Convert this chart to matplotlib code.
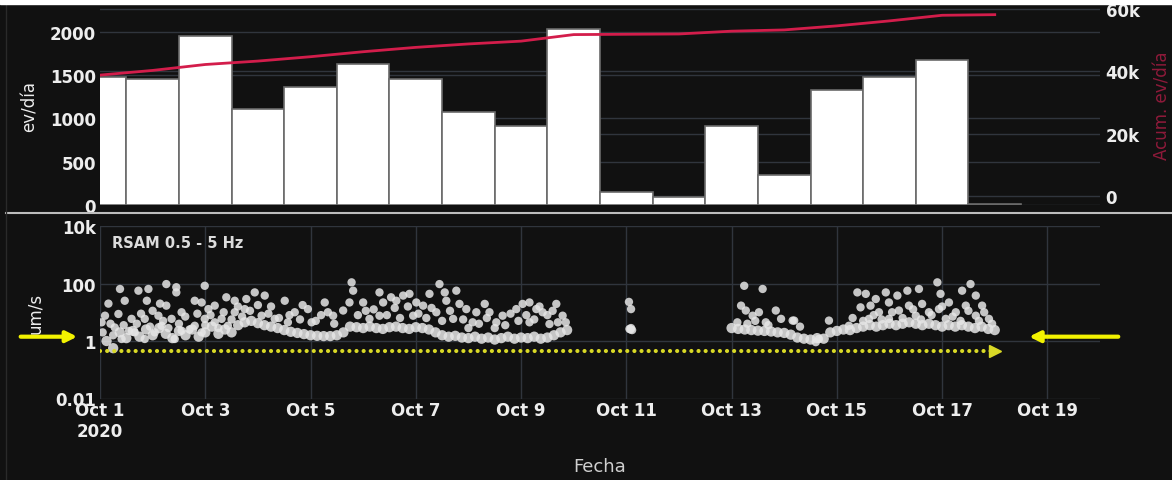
import numpy as np
import matplotlib.pyplot as plt
from matplotlib.lines import Line2D
from matplotlib.patches import Rectangle

# Conteo diario (ev/día) y acumulado, días contados desde el 1 de octubre de 2020
dias = np.arange(18)
eventos = [1475, 1455, 1955, 1105, 1360, 1630, 1455, 1070, 910, 2030,
           145, 90, 910, 350, 1330, 1475, 1680, 15]
acumulado = [38800, 40300, 42200, 43300, 44700, 46300, 47700, 48800, 49700, 51800,
             51900, 52000, 52900, 53300, 54600, 56200, 58000, 58200]

# RSAM 0.5 - 5 Hz: nivel de fondo cada 3 horas (log10 um/s)
t_fondo_1 = np.arange(0.125, 8.876, 0.125)
fondo_1 = [0.0, -0.25, 0.3, 0.1, 0.35, 0.15, 0.4, 0.2,
           0.45, 0.25, 0.1, 0.35, 0.2, 0.4, 0.15, 0.3,
           0.5, 0.25, 0.4, 0.3, 0.55, 0.65, 0.7, 0.62,
           0.55, 0.5, 0.45, 0.38, 0.32, 0.28, 0.24, 0.2,
           0.18, 0.17, 0.17, 0.2, 0.3, 0.5, 0.48, 0.45,
           0.5, 0.45, 0.42, 0.48, 0.5, 0.45, 0.42, 0.48,
           0.45, 0.4, 0.3, 0.2, 0.15, 0.18, 0.12, 0.1,
           0.15, 0.08, 0.12, 0.05, 0.1, 0.15, 0.08, 0.12,
           0.1, 0.15, 0.08, 0.12, 0.2, 0.3, 0.38]
t_fondo_2 = np.arange(12.0, 17.001, 0.125)
fondo_2 = [0.45, 0.42, 0.4, 0.38, 0.36, 0.35, 0.33, 0.3,
           0.28, 0.22, 0.12, 0.08, 0.05, 0.1, 0.08, 0.3,
           0.35, 0.4, 0.38, 0.45, 0.5, 0.55, 0.5, 0.55,
           0.6, 0.55, 0.6, 0.65, 0.6, 0.55, 0.6, 0.55,
           0.5, 0.55, 0.5, 0.55, 0.5, 0.45, 0.5, 0.42, 0.38]

# Picos por encima del fondo (día, log10 um/s)
t_picos = [0.38, 0.73, 0.92, 1.26, 1.45, 1.45, 1.99, 0.16, 0.47, 0.89, 1.14, 1.26,
           0.095, 0.35, 0.6, 0.85, 1.11, 1.36, 1.55, 1.80, 1.93, 2.06, 2.18, 2.40,
           2.56, 2.78, 2.94, 3.13, 3.51, 3.70, 3.95, 4.27, 4.33, 2.56, 2.75, 3.07,
           2.18, 1.80, 1.55, 1.17, 0.66, 0.28, 0.41, 0.85, 1.42, 1.99, 2.31, 3.32,
           3.57, 4.02, 1.93, 1.04, 0.03, 2.43,
           0.05, 0.2, 0.25, 0.45, 0.55, 0.7, 0.78, 0.95, 1.0, 1.2, 1.3, 1.5,
           1.62, 1.7, 1.85, 2.0, 2.1, 2.25, 2.35, 2.5, 2.62, 2.7, 2.85, 3.0,
           3.2, 3.25, 3.4, 3.6, 3.8, 3.85, 4.1, 4.2, 4.45,
           4.78, 4.81, 4.74, 4.62, 5.0, 5.31, 5.38, 5.53, 5.63, 5.76, 5.88, 6.01,
           6.14, 6.26, 6.45, 6.55, 6.58, 6.77, 6.83, 6.96, 7.15, 7.31, 7.40, 7.65,
           7.91, 8.03, 8.16, 8.29, 8.41, 8.67, 8.79, 8.85, 5.31, 5.95, 6.39, 7.08,
           7.53, 8.16, 4.43, 5.12, 6.71, 8.54,
           4.9, 5.05, 5.2, 5.45, 5.6, 5.7, 5.85, 6.05, 6.2, 6.3, 6.5, 6.65,
           6.9, 7.0, 7.2, 7.35, 7.5, 7.7, 7.8, 7.95, 8.1, 8.25, 8.35, 8.5,
           8.6, 8.7,
           10.06, 10.09, 10.11, 10.08, 10.05, 10.09,
           12.24, 12.59, 12.18, 12.27, 12.40, 12.52, 12.84, 12.94, 13.16, 12.11, 12.65,
           12.3, 12.45, 12.7, 13.3,
           13.19, 13.85, 14.39, 14.55, 14.74, 14.93, 15.15, 15.34, 15.56, 15.91, 15.97,
           16.13, 16.38, 16.54, 16.64, 16.76, 14.45, 14.64, 14.80, 14.99, 15.18, 15.37,
           15.62, 15.75, 15.94, 16.26, 16.45, 16.64, 16.89, 14.61, 14.99, 15.50, 16.07,
           14.23, 13.66, 13.60,
           14.3, 14.5, 14.7, 14.85, 15.05, 15.25, 15.45, 15.6, 15.8, 16.0, 16.2, 16.35,
           16.5, 16.7, 16.8, 16.95]
v_picos = [1.81, 1.75, 1.81, 1.98, 1.87, 1.69, 1.92, 1.30, 1.40, 1.40, 1.30, 1.23,
           0.88, 0.94, 0.77, 0.77, 0.88, 0.77, 1.0, 1.40, 1.34, 1.11, 1.23, 1.52,
           1.40, 1.46, 1.69, 1.58, 1.40, 1.0, 1.11, 1.34, 1.0, 1.0, 1.11, 0.88,
           0.65, 0.53, 0.36, 0.53, 0.30, 0.47, 0.07, 0.07, 0.07, 0.77, 0.77, 0.77,
           0.65, 0.65, 0.30, 0.30, 0.65, 0.53,
           0.3, 0.6, 0.2, 0.55, 0.35, 0.6, 0.95, 0.5, 1.05, 0.7, 0.45, 0.6,
           0.85, 0.4, 0.95, 0.55, 0.9, 0.45, 1.0, 0.75, 1.2, 0.85, 1.05, 1.25,
           0.95, 1.2, 0.8, 0.9, 0.75, 1.25, 0.7, 0.9, 0.6,
           2.04, 1.75, 1.34, 1.06, 1.34, 1.69, 1.34, 1.52, 1.40, 1.58, 1.64, 1.34,
           1.23, 1.64, 1.98, 1.69, 1.40, 1.75, 1.29, 1.11, 1.0, 1.29, 1.0, 0.88,
           1.11, 1.29, 1.34, 1.11, 1.0, 1.29, 0.88, 0.65, 0.88, 0.88, 1.0, 0.65,
           0.65, 0.65, 0.88, 0.77, 0.77, 0.59,
           0.9, 1.05, 1.1, 0.9, 1.15, 0.8, 1.2, 0.95, 0.8, 1.15, 0.7, 1.05,
           0.75, 0.45, 0.6, 0.8, 0.45, 0.55, 0.95, 0.7, 0.9, 0.75, 1.2, 0.9,
           1.05, 0.65,
           0.42, 0.45, 0.38, 0.40, 1.36, 1.11,
           1.92, 1.81, 1.23, 1.06, 0.88, 1.0, 1.06, 0.77, 0.71, 0.65, 0.65,
           0.6, 0.7, 0.55, 0.5,
           0.71, 0.71, 1.69, 1.64, 1.46, 1.69, 1.58, 1.75, 1.81, 2.04, 1.64,
           1.34, 1.75, 1.98, 1.58, 1.23, 1.17, 1.23, 1.0, 1.34, 1.06, 1.23,
           1.29, 1.0, 1.11, 1.0, 1.23, 0.88, 0.77, 0.77, 0.77, 0.88, 0.77,
           0.53, 0.07, -0.04,
           0.8, 0.7, 0.9, 0.75, 1.0, 0.8, 1.1, 0.75, 0.9, 1.2, 0.85, 0.7,
           1.05, 0.7, 1.0, 0.6]

nivel_referencia = 10 ** -0.35
nivel_flechas = 10 ** 0.15

ticks_x = list(range(0, 19, 2))
etiquetas_x = ["Oct 1\n2020", "Oct 3", "Oct 5", "Oct 7", "Oct 9", "Oct 11",
               "Oct 13", "Oct 15", "Oct 17", "Oct 19"]

FONDO = "#111111"
TEXTO = "#ededed"
GRID = "#30353d"
ROJO = "#d31d4b"
AMARILLO = "#f2f200"
PUNTOS_AMARILLOS = "#d9d926"

W, H = 1172, 481
fig = plt.figure(figsize=(W / 100, H / 100), dpi=100, facecolor=FONDO)


def px_axes(x0, y0, x1, y1):
    return fig.add_axes([x0 / W, 1 - y1 / H, (x1 - x0) / W, (y1 - y0) / H])


# ---- panel superior: ev/día + acumulado ----
ax = px_axes(100, 6, 1100, 206)
ax.set_facecolor(FONDO)
ax.bar(dias, eventos, width=1.0, color="white", edgecolor="#6a6a6a", linewidth=1.2, zorder=2)
ax.set_xlim(0, 19)
ax.set_ylim(0, 2312)
ax.set_yticks([0, 500, 1000, 1500, 2000])
ax.grid(axis="y", color=GRID, linewidth=1, zorder=0)
ax.set_xticks([])
ax.tick_params(axis="y", length=0, pad=3, labelcolor=TEXTO, labelsize=12)
for lab in ax.get_yticklabels():
    lab.set_fontweight("bold")
ax.set_ylabel("ev/día", color=TEXTO, fontsize=12, labelpad=8)
for s in ax.spines.values():
    s.set_visible(False)

ax2 = ax.twinx()
ax2.plot(dias, acumulado, color=ROJO, linewidth=2, zorder=3)
ax2.set_ylim(-2900, 61300)
ax2.set_yticks([0, 20000, 40000, 60000])
ax2.set_yticklabels(["0", "20k", "40k", "60k"])
ax2.tick_params(axis="y", length=0, pad=4, labelcolor=TEXTO, labelsize=12)
for lab in ax2.get_yticklabels():
    lab.set_fontweight("bold")
ax2.set_ylabel("Acum. ev/día", color="#8e1a3a", fontsize=12, labelpad=10)
for s in ax2.spines.values():
    s.set_visible(False)
# líneas de rejilla del eje derecho, por debajo de las barras
for v in [0, 20000, 40000, 60000]:
    f = (v + 2900) / (61300 + 2900)
    ax.plot([0, 1], [f, f], transform=ax.transAxes, color=GRID, linewidth=1, zorder=1)

# ---- panel inferior: RSAM ----
bx = px_axes(100, 227, 1100, 399.5)
bx.set_facecolor(FONDO)
bx.set_yscale("log")
bx.set_xlim(0, 19)
bx.set_ylim(0.01, 10000)
bx.set_yticks([0.01, 1, 100, 10000])
bx.set_yticklabels(["0.01", "1", "100", "10k"])
bx.minorticks_off()
bx.set_xticks(ticks_x)
bx.set_xticklabels(etiquetas_x)
bx.grid(True, color=GRID, linewidth=1, zorder=0)
bx.tick_params(length=0, labelcolor=TEXTO, labelsize=12)
bx.tick_params(axis="y", pad=3)
bx.tick_params(axis="x", pad=2)
for lab in bx.get_xticklabels() + bx.get_yticklabels():
    lab.set_fontweight("bold")
for s in bx.spines.values():
    s.set_visible(False)
bx.set_ylabel("um/s", color=TEXTO, fontsize=12, labelpad=8)
bx.set_xlabel("Fecha", color="#cfcfcf", fontsize=13, labelpad=12)

estilo = dict(color="#e6e6e6", alpha=0.85, edgecolors="none", zorder=3)
bx.scatter(t_fondo_1, 10 ** np.array(fondo_1), s=55, **estilo)
bx.scatter(t_fondo_2, 10 ** np.array(fondo_2), s=55, **estilo)
bx.scatter(t_picos, 10 ** np.array(v_picos), s=36, **estilo)

bx.text(0.012, 0.905, "RSAM 0.5 - 5 Hz", transform=bx.transAxes, color="#dcdcdc",
        fontsize=10.5, fontweight="bold", va="center")

# nivel de referencia punteado con punta de flecha
bx.plot([0, 16.95], [nivel_referencia, nivel_referencia], color=PUNTOS_AMARILLOS,
        linewidth=3, linestyle=(0, (0.01, 1.7)), dash_capstyle="round", zorder=4)
bx.plot([17.0], [nivel_referencia], marker=">", markersize=9, color=PUNTOS_AMARILLOS,
        linestyle="none", zorder=4)

# flechas laterales
bx.annotate("", xy=(-0.38, nivel_flechas), xytext=(-1.56, nivel_flechas),
            arrowprops=dict(arrowstyle="-|>", color=AMARILLO, lw=3, mutation_scale=16),
            annotation_clip=False)
bx.annotate("", xy=(17.6, nivel_flechas), xytext=(19.4, nivel_flechas),
            arrowprops=dict(arrowstyle="-|>", color=AMARILLO, lw=3, mutation_scale=16),
            annotation_clip=False)

# separador entre paneles y márgenes de la captura
fig.add_artist(Line2D([6 / W, 1], [1 - 213.5 / H] * 2, color="#bdbdbd", linewidth=1.5))
fig.add_artist(Line2D([6 / W] * 2, [0, 1], color="#2a2a2a", linewidth=1))
fig.add_artist(Rectangle((0, 1 - 5 / H), 1, 5 / H, color="white", zorder=10))

fig.savefig("out.png", dpi=100, facecolor=FONDO)
